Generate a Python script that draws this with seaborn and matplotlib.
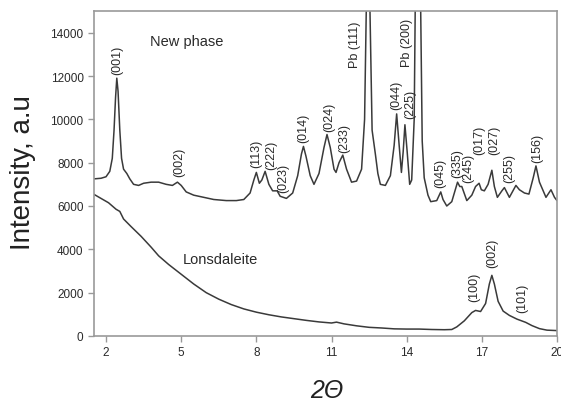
import matplotlib
matplotlib.use("Agg")
import matplotlib.pyplot as plt
import seaborn as sns
import pandas as pd

# ---- data ----
new_x = [1.50, 1.80, 2.00, 2.15, 2.25, 2.32, 2.38, 2.43, 2.48, 2.55, 2.62, 2.70, 2.83, 2.95,
         3.10, 3.30, 3.50, 3.80, 4.10, 4.40, 4.65, 4.85, 5.00, 5.20, 5.50, 5.90, 6.30, 6.80,
         7.20, 7.50, 7.75, 7.90, 8.00, 8.12, 8.22, 8.35, 8.50, 8.65, 8.83, 8.95, 9.20, 9.45,
         9.65, 9.80, 9.88, 9.98, 10.15, 10.30, 10.50, 10.70, 10.82, 10.95, 11.10, 11.18, 11.30,
         11.45, 11.60, 11.80, 12.00, 12.20, 12.32, 12.40, 12.45, 12.52, 12.62, 12.75, 12.85,
         12.95, 13.15, 13.35, 13.50, 13.60, 13.70, 13.79, 13.86, 13.93, 14.02, 14.12, 14.20,
         14.30, 14.38, 14.45, 14.53, 14.62, 14.70, 14.85, 14.96, 15.20, 15.36, 15.45, 15.60, 15.80,
         16.03, 16.12, 16.20, 16.40, 16.60, 16.75, 16.89, 16.98, 17.10, 17.25, 17.40, 17.50,
         17.62, 17.80, 17.90, 18.10, 18.36, 18.50, 18.70, 18.88, 19.05, 19.16, 19.30, 19.56,
         19.76, 19.90, 20.00]
new_y = [7250, 7280, 7350, 7600, 8200, 9500, 11000, 11900, 11300, 9500, 8200, 7700, 7500, 7250,
         7000, 6950, 7050, 7100, 7100, 7000, 6950, 7100, 6950, 6650, 6500, 6400, 6300, 6250,
         6250, 6300, 6600, 7200, 7550, 7050, 7200, 7600, 7000, 6700, 6700, 6450, 6350, 6600,
         7400, 8400, 8750, 8300, 7400, 7000, 7500, 8700, 9300, 8700, 7700, 7550, 8000,
         8350, 7700, 7100, 7150, 7700, 10000, 16000, 30000, 16000, 9500, 8400, 7500,
         7000, 6950, 7400, 8800, 10250, 8800, 7550, 8500, 9750, 8500, 7000, 7200,
         10000, 20000, 30000, 18000, 9000, 7300, 6500, 6200, 6250, 6650, 6300, 6000, 6200,
         7100, 6900, 6900, 6250, 6500, 6900, 7050, 6750, 6700, 7000, 7650, 6900,
         6400, 6700, 6850, 6400, 6950, 6750, 6600, 6550, 7300, 7850, 7100, 6400,
         6750, 6400, 6250]

lon_x = [1.50, 1.80, 2.10, 2.40, 2.55, 2.70, 3.00, 3.40, 3.80, 4.10, 4.50, 5.00, 5.50, 6.00,
         6.50, 7.00, 7.50, 8.00, 8.50, 9.00, 9.50, 10.00, 10.50, 11.00, 11.20, 11.50, 12.00,
         12.50, 13.00, 13.50, 14.00, 14.50, 15.00, 15.50, 15.80, 16.00, 16.30, 16.60, 16.75,
         16.95, 17.15, 17.30, 17.40, 17.50, 17.65, 17.85, 18.10, 18.40, 18.75, 19.00, 19.30,
         19.60, 20.00]
lon_y = [6550, 6350, 6150, 5850, 5750, 5400, 5050, 4600, 4100, 3700, 3300, 2850, 2400, 2000,
         1700, 1450, 1250, 1100, 980, 880, 800, 720, 650, 600, 640, 560, 470,
         400, 370, 330, 320, 320, 300, 290, 300, 420, 700, 1080, 1180,
         1130, 1500, 2400, 2800, 2400, 1600, 1150, 950, 780, 630, 480, 340,
         270, 250]

new_labels = ["(001)", "(002)", "(113)", "(222)", "(023)", "(014)", "(024)", "(233)", "Pb (111)",
              "(044)", "(225)", "Pb (200)", "(045)", "(335)", "(245)", "(017)", "(027)", "(255)", "(156)"]
new_label_x = [2.44, 4.92, 8.00, 8.61, 9.09, 9.89, 10.89, 11.52, 11.92,
               13.60, 14.14, 14.03, 15.33, 16.00, 16.45, 16.89, 17.49, 18.09, 19.23]
new_label_y = [12074, 7373, 7788, 7700, 6636, 8940, 9447, 8479, 12396,
               10460, 10046, 12442, 6866, 7327, 7097, 8387, 8387, 7097, 8018]

lon_labels = ["(100)", "(002)", "(101)"]
lon_label_x = [16.69, 17.43, 18.63]
lon_label_y = [1627, 3180, 1120]

x_ticks = [2, 5, 8, 11, 14, 17, 20]
y_ticks = [0, 2000, 4000, 6000, 8000, 10000, 12000, 14000]

# ---- plot ----
sns.set_style("ticks")
plt.rcParams['font.family'] = ['Liberation Sans', 'DejaVu Sans']

fig = plt.figure(figsize=(5.61, 4.02), dpi=100)
ax = fig.add_axes([94 / 561, 65 / 402, 463 / 561, 325 / 402])

df_new = pd.DataFrame({"x": new_x, "y": new_y})
df_lon = pd.DataFrame({"x": lon_x, "y": lon_y})
line_col = "#3a3a3a"
sns.lineplot(data=df_new, x="x", y="y", sort=False, ax=ax, color=line_col, lw=1.1)
sns.lineplot(data=df_lon, x="x", y="y", sort=False, ax=ax, color=line_col, lw=1.1)

ax.set_xlim(1.52, 20)
ax.set_ylim(0, 15000)
ax.set_xticks(x_ticks)
ax.set_yticks(y_ticks)
ax.set_xticklabels([str(t) for t in x_ticks])
ax.set_yticklabels([str(t) for t in y_ticks])

spine_col = "#999999"
for s in ax.spines.values():
    s.set_visible(True)
    s.set_color(spine_col)
    s.set_linewidth(1.2)
ax.tick_params(axis="both", colors=spine_col, length=4.5, width=1.0, labelsize=8.5,
               labelcolor="#2a2a2a", pad=3)

ax.set_xlabel("")
ax.set_ylabel("")
fig.text(327 / 561, 1 - 391 / 402, "2Θ", fontsize=18, style="italic", ha="center", va="center",
         color="#222222")
fig.text(23 / 561, 1 - 173 / 402, "Intensity, a.u", fontsize=20, rotation=90, ha="center",
         va="center", color="#222222")

for t, x, y in zip(new_labels, new_label_x, new_label_y):
    ax.text(x, y, t, rotation=90, ha="center", va="bottom", fontsize=9, color="#2a2a2a")
for t, x, y in zip(lon_labels, lon_label_x, lon_label_y):
    ax.text(x, y, t, rotation=90, ha="center", va="bottom", fontsize=9, color="#2a2a2a")

ax.text(3.76, 13594, "New phase", fontsize=10.5, ha="left", va="center", color="#2a2a2a")
ax.text(5.07, 3548, "Lonsdaleite", fontsize=10.5, ha="left", va="center", color="#2a2a2a")

fig.savefig("out.png", dpi=100)
